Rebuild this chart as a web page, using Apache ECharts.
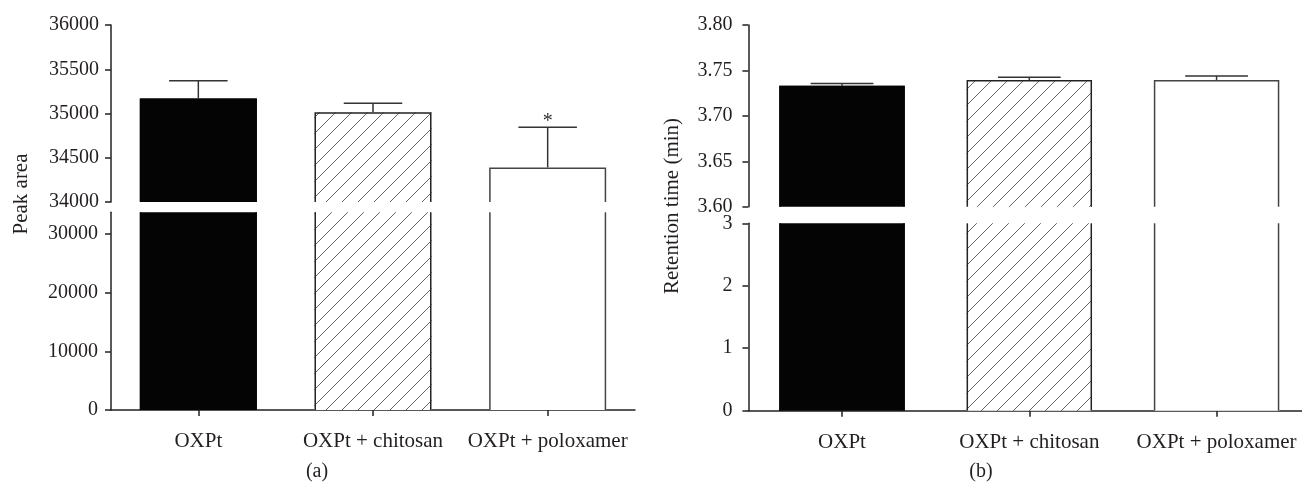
<!DOCTYPE html>
<html><head><meta charset="utf-8">
<script src="https://cdn.jsdelivr.net/npm/echarts@6/dist/echarts.min.js"></script>
<style>html,body{margin:0;padding:0;background:#fff}#c{width:1302px;height:489px}</style>
</head><body><div id="c"></div>
<script>
// ---- data ----
const categories = ['OXPt', 'OXPt + chitosan', 'OXPt + poloxamer'];
const peakAreaMean = [35170, 35015, 34390];
const peakAreaSD = [200, 100, 455];
const peakAreaMarks = ['', '', '*'];
const retentionMean = [3.733, 3.7395, 3.7395];
const retentionSD = [0.0025, 0.003, 0.0044];
const retentionMarks = ['', '', ''];
// axis ranges [min, max, interval]
const peakUpperAxis = [34000, 36000, 500];
const peakLowerAxis = [0, 33700, 10000];
const retUpperAxis = [3.60, 3.80, 0.05];
const retLowerAxis = [0, 3, 1];

const FONT = '"Liberation Serif", "DejaVu Serif", serif';
const INK = '#231f20';
const AX = '#222';

function hatchCanvas() {
  const s = 16, c = document.createElement('canvas');
  c.width = s; c.height = s;
  const g = c.getContext('2d');
  g.fillStyle = '#fff'; g.fillRect(0, 0, s, s);
  g.strokeStyle = '#666'; g.lineWidth = 1;
  g.beginPath();
  g.moveTo(0, s); g.lineTo(s, 0);
  g.moveTo(-4, 4); g.lineTo(4, -4);
  g.moveTo(s - 4, s + 4); g.lineTo(s + 4, s - 4);
  g.stroke();
  return c;
}
const barStyles = [
  { fill: '#040404', stroke: '#040404' },
  { fill: { image: hatchCanvas(), repeat: 'repeat' }, stroke: '#222' },
  { fill: '#ffffff', stroke: '#444' }
];
const BAR_RATIO = 0.67;

function barRender(params, api) {
  const cat = api.value(0), val = api.value(1);
  const cs = params.coordSys;
  const p = api.coord([cat, val]);
  const p0 = api.coord([cat, 0]);
  const w = api.size([1, 0])[0] * BAR_RATIO;
  const clippedTop = p[1] < cs.y;
  const top = Math.max(p[1], cs.y);
  const bot = Math.min(p0[1], cs.y + cs.height);
  const x0 = p[0] - w / 2, x1 = p[0] + w / 2;
  const st = barStyles[params.dataIndex];
  const lw = 1.5;
  const children = [{ type: 'rect', shape: { x: x0, y: top, width: w, height: bot - top }, style: { fill: st.fill } }];
  if (clippedTop) {
    children.push({ type: 'line', shape: { x1: x0 + lw / 2, y1: bot, x2: x0 + lw / 2, y2: top }, style: { stroke: st.stroke, lineWidth: lw } });
    children.push({ type: 'line', shape: { x1: x1 - lw / 2, y1: bot, x2: x1 - lw / 2, y2: top }, style: { stroke: st.stroke, lineWidth: lw } });
  } else {
    children.push({ type: 'polyline', shape: { points: [[x0 + lw / 2, bot], [x0 + lw / 2, top + lw / 2], [x1 - lw / 2, top + lw / 2], [x1 - lw / 2, bot]] }, style: { stroke: st.stroke, lineWidth: lw, fill: null } });
  }
  return { type: 'group', children };
}

function errRenderFactory(marks) {
  return function (params, api) {
    const cat = api.value(0), m = api.value(1), sd = api.value(2);
    const p = api.coord([cat, m]), q = api.coord([cat, m + sd]);
    const cw = api.size([1, 0])[0] * BAR_RATIO / 2;
    const st = { stroke: '#333', lineWidth: 1.5 };
    const ch = [
      { type: 'line', shape: { x1: p[0], y1: p[1], x2: q[0], y2: q[1] }, style: st },
      { type: 'line', shape: { x1: q[0] - cw / 2, y1: q[1], x2: q[0] + cw / 2, y2: q[1] }, style: st }
    ];
    const mk = marks[params.dataIndex];
    if (mk) ch.push({ type: 'text', x: q[0], y: q[1] - 5, style: { text: mk, fill: '#333', font: '20px ' + FONT, align: 'center', verticalAlign: 'middle' } });
    return { type: 'group', children: ch };
  };
}

const grids = [
  { left: 111, top: 25, width: 524, height: 177 },
  { left: 111, top: 212.3, width: 524, height: 197.7 },
  { left: 748.4, top: 25, width: 561.8, height: 181.7 },
  { left: 748.4, top: 223.3, width: 561.8, height: 187.4 }
].map(g => Object.assign({ outerBoundsMode: 'none', containLabel: false }, g));

function xAx(gi, show) {
  return {
    type: 'category', gridIndex: gi, data: categories, show: show, boundaryGap: true,
    axisLine: { show: true, lineStyle: { color: AX, width: 1.5 } },
    axisTick: { show: true, alignWithLabel: true, length: 6, lineStyle: { color: AX, width: 1.5 } },
    axisLabel: { fontFamily: FONT, fontSize: 21, color: INK, margin: 21, interval: 0 },
    splitLine: { show: false }
  };
}
function yAx(gi, rng, fmt, hideMax, margin) {
  return {
    type: 'value', gridIndex: gi, min: rng[0], max: rng[1], interval: rng[2],
    axisLine: { show: true, lineStyle: { color: AX, width: 1.5 } },
    axisTick: { show: true, length: 6, lineStyle: { color: AX, width: 1.5 } },
    axisLabel: { fontFamily: FONT, fontSize: 20, color: INK, margin: margin, formatter: fmt, showMaxLabel: hideMax ? false : true, showMinLabel: true },
    splitLine: { show: false }
  };
}

const peakData = categories.map((c, i) => [i, peakAreaMean[i], peakAreaSD[i]]);
const retData = categories.map((c, i) => [i, retentionMean[i], retentionSD[i]]);

const option = {
  animation: false,
  backgroundColor: '#fff',
  grid: grids,
  xAxis: [xAx(0, false), xAx(1, true), xAx(2, false), xAx(3, true)],
  yAxis: [
    yAx(0, peakUpperAxis, v => String(v), false, 12),
    yAx(1, peakLowerAxis, v => String(v), true, 13),
    yAx(2, retUpperAxis, v => v.toFixed(2), false, 16),
    yAx(3, retLowerAxis, v => String(v), false, 16)
  ],
  series: [
    { type: 'custom', xAxisIndex: 0, yAxisIndex: 0, data: peakData, renderItem: barRender, z: 2 },
    { type: 'custom', xAxisIndex: 1, yAxisIndex: 1, data: peakData, renderItem: barRender, z: 2 },
    { type: 'custom', xAxisIndex: 0, yAxisIndex: 0, data: peakData, renderItem: errRenderFactory(peakAreaMarks), z: 3 },
    { type: 'custom', xAxisIndex: 2, yAxisIndex: 2, data: retData, renderItem: barRender, z: 2 },
    { type: 'custom', xAxisIndex: 3, yAxisIndex: 3, data: retData, renderItem: barRender, z: 2 },
    { type: 'custom', xAxisIndex: 2, yAxisIndex: 2, data: retData, renderItem: errRenderFactory(retentionMarks), z: 3 }
  ],
  graphic: [
    { type: 'text', x: 21, y: 194, rotation: Math.PI / 2, style: { text: 'Peak area', font: '21px ' + FONT, fill: INK, align: 'center', verticalAlign: 'middle' } },
    { type: 'text', x: 672, y: 206, rotation: Math.PI / 2, style: { text: 'Retention time (min)', font: '21px ' + FONT, fill: INK, align: 'center', verticalAlign: 'middle' } },
    { type: 'text', x: 317, y: 472, style: { text: '(a)', font: '20px ' + FONT, fill: INK, align: 'center', verticalAlign: 'middle' } },
    { type: 'text', x: 981, y: 472, style: { text: '(b)', font: '20px ' + FONT, fill: INK, align: 'center', verticalAlign: 'middle' } }
  ]
};
const chart = echarts.init(document.getElementById('c'), null, { renderer: 'canvas' });
chart.setOption(option);
</script>
</body></html>
